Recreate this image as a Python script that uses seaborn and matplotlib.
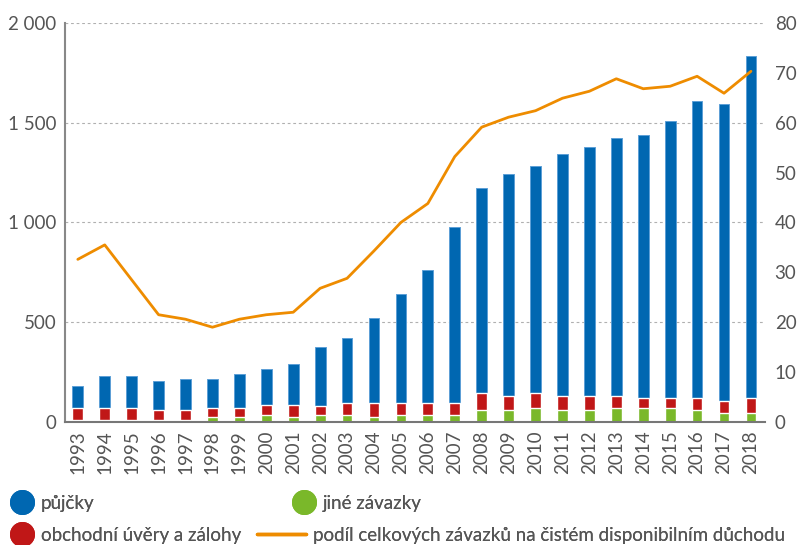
import numpy as np
import matplotlib
matplotlib.use("Agg")
import matplotlib.pyplot as plt
import seaborn as sns
from matplotlib.lines import Line2D
from matplotlib.ticker import FuncFormatter

years = [str(y) for y in range(1993, 2019)]

# mld. Kč, composition of household liabilities
pujcky = [108, 157, 157, 147, 159, 145, 170, 182, 207, 292, 326, 426, 545,
          665, 882, 1028, 1111, 1140, 1211, 1245, 1293, 1319, 1391, 1489, 1489, 1717]
obchodni = [62, 62, 62, 48, 48, 49, 49, 48, 60, 47, 60, 72, 60,
            60, 60, 83, 72, 71, 72, 72, 60, 46, 46, 58, 60, 71]
jine = [10, 10, 10, 10, 10, 23, 23, 35, 23, 35, 35, 23, 35,
        35, 35, 60, 60, 72, 60, 60, 72, 72, 72, 60, 47, 47]
# % of net disposable income
podil = [32.6, 35.5, 28.5, 21.5, 20.6, 19.0, 20.6, 21.5, 22.0, 26.8, 28.8, 34.3, 40.0,
         43.8, 53.2, 59.1, 61.1, 62.4, 64.9, 66.3, 68.8, 66.8, 67.3, 69.3, 65.9, 70.3]

labels = ["půjčky", "jiné závazky", "obchodní úvěry a zálohy",
          "podíl celkových závazků na čistém disponibilním důchodu"]

c_blue = "#0067b1"
c_red = "#c01717"
c_green = "#7ab82a"
c_orange = "#ee8c00"
c_text = "#555555"

sns.set_style("white")
plt.rcParams["font.family"] = ["Lato", "DejaVu Sans"]

fig = plt.figure(figsize=(8.01, 5.45), dpi=100)
ax = fig.add_axes([0.081, 0.2257, 0.874, 0.7323])

g = np.array(jine)
r = g + np.array(obchodni)
t = r + np.array(pujcky)

sns.barplot(x=years, y=t, color=c_blue, width=0.4, saturation=1, errorbar=None,
            edgecolor="#5c9fd6", linewidth=0.7, ax=ax)
sns.barplot(x=years, y=r, color=c_red, width=0.4, saturation=1, errorbar=None, ax=ax)
sns.barplot(x=years, y=g, color=c_green, width=0.4, saturation=1, errorbar=None, ax=ax)

ax2 = ax.twinx()
sns.lineplot(x=np.arange(len(years)), y=podil, color=c_orange, linewidth=2, ax=ax2)

ax.set_xlim(-0.48, len(years) - 0.48)
ax.set_ylim(0, 2000)
ax2.set_ylim(0, 80)
ax.set_yticks([0, 500, 1000, 1500, 2000])
ax2.set_yticks(range(0, 81, 10))
ax.yaxis.set_major_formatter(FuncFormatter(lambda v, p: f"{int(v):,}".replace(",", " ")))

ax.set_axisbelow(True)
ax.yaxis.grid(True, linestyle=(0, (2.5, 2.5)), color="#b0b0b0", linewidth=0.8)
ax.set_xlabel("")
ax.set_ylabel("")
ax2.set_ylabel("")

ax.tick_params(axis="x", labelrotation=90, length=0, labelsize=13.5, colors=c_text, pad=6)
ax.tick_params(axis="y", length=0, labelsize=13.5, colors=c_text, pad=6)
ax2.tick_params(axis="y", length=0, labelsize=13.5, colors=c_text, pad=7)

for s in ["top", "right"]:
    ax.spines[s].set_visible(False)
for s in ax2.spines.values():
    s.set_visible(False)
ax.spines["left"].set_color("#888888")
ax.spines["left"].set_linewidth(1.5)
ax.spines["bottom"].set_color("#777777")
ax.spines["bottom"].set_linewidth(1.5)


def circle(c):
    return Line2D([], [], linestyle="none", marker="o", markersize=17, color=c)


legend_items = [
    (circle(c_blue), labels[0], -0.0075, 0.077, 1.2),
    (circle(c_red), labels[2], -0.0075, 0.018, 1.2),
    (circle(c_green), labels[1], 0.344, 0.077, 1.2),
    (Line2D([], [], color=c_orange, linewidth=2.5), labels[3], 0.300, 0.018, 2.6),
]
for h, lab, x, y, hl in legend_items:
    leg = fig.legend([h], [lab], loc="center left", bbox_to_anchor=(x, y),
                     frameon=False, fontsize=13.5, handlelength=hl, handletextpad=0.4,
                     labelcolor=c_text)
    fig.add_artist(leg)

fig.savefig("out.png", dpi=100)
